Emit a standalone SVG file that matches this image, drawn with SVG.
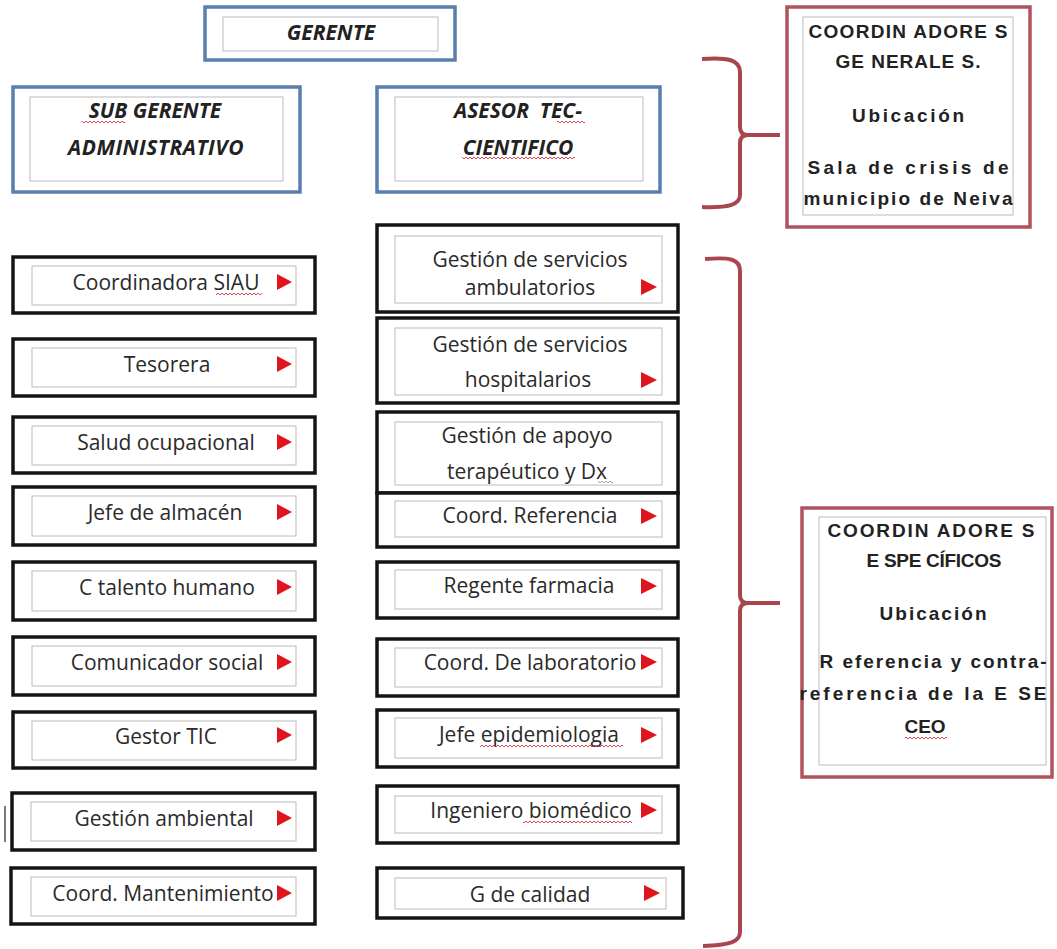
<svg xmlns="http://www.w3.org/2000/svg" width="1057" height="949" viewBox="0 0 1057 949">
<defs>
<style>
.ob{fill:#fff;stroke:#141414;stroke-width:3.5}
.ib{fill:none;stroke:#c6c6c6;stroke-width:1.2}
.bb{fill:#fff;stroke:#5a7eae;stroke-width:3.5}
.rb{fill:#fff;stroke:#b1535c;stroke-width:3.5}
.t{font-family:"Open Sans","Liberation Sans",sans-serif;font-size:21px;fill:#2a2a2a;text-anchor:middle}
.h{font-family:"Open Sans","Liberation Sans",sans-serif;font-weight:bold;font-style:italic;font-size:21px;fill:#222;text-anchor:middle}
.r{font-family:"Liberation Sans",Arial,sans-serif;font-weight:bold;font-size:19px;fill:#222;text-anchor:middle}
.ar{fill:#e0141c}
.br{fill:none;stroke:#a8454f;stroke-width:4;stroke-linejoin:round}
.wv{fill:url(#wv)}
.wg{fill:url(#wg)}
</style>
<pattern id="wv" width="4" height="4" patternUnits="userSpaceOnUse"><path d="M0,3 L2,1 L4,3" fill="none" stroke="#d2333c" stroke-width="0.9"/></pattern>
<pattern id="wg" width="4" height="4" patternUnits="userSpaceOnUse"><path d="M0,3 L2,1 L4,3" fill="none" stroke="#9a9a9a" stroke-width="0.9"/></pattern>
</defs>
<rect width="1057" height="949" fill="#fff"/>

<g id="connectors">
<path class="br" d="M702,59 C728,57 740,60 740,72 L740,127 C740,132 742,135 748,135 L780,135 M748,135 C742,135 740,138 740,143 L740,195 C740,205 728,208 702,207"/>
<path class="br" d="M705,259 C730,257 740,259 740,271 L740,595 C740,600 742,603 748,603 L780,603 M748,603 C742,603 740,606 740,611 L740,932 C740,942 730,945 703,946"/>
</g>

<g id="gerente">
<rect class="bb" x="205" y="7" width="250" height="53"/>
<rect class="ib" x="223" y="17" width="215" height="34"/>
<text class="h" x="331" y="40">GERENTE</text>
</g>

<g id="sub-gerente">
<rect class="bb" x="13" y="87" width="287" height="105"/>
<rect class="ib" x="30" y="97" width="253" height="84"/>
<text class="h" x="155" y="118">SUB GERENTE</text>
<text class="h" x="156" y="155" letter-spacing="0.5">ADMINISTRATIVO</text>
<rect class="wv" x="82" y="120" width="43" height="4"/>
</g>

<g id="asesor">
<rect class="bb" x="377" y="87" width="283" height="105"/>
<rect class="ib" x="395" y="97" width="248" height="84"/>
<text class="h" x="518" y="118" xml:space="preserve">ASESOR  TEC-</text>
<text class="h" x="518" y="155">CIENTIFICO</text>
<rect class="wv" x="557" y="120" width="28" height="4"/>
<rect class="wv" x="462" y="156" width="113" height="4"/>
</g>

<g id="coord-generales">
<rect class="rb" x="787" y="7" width="243" height="220"/>
<rect class="ib" x="803" y="17" width="210" height="198"/>
<text class="r" x="908" y="38" textLength="199" lengthAdjust="spacing">COORDIN ADORE S</text>
<text class="r" x="908" y="68" textLength="145" lengthAdjust="spacing">GE NERALE S.</text>
<text class="r" x="908" y="122" textLength="112" lengthAdjust="spacing">Ubicación</text>
<text class="r" x="908" y="174" textLength="201" lengthAdjust="spacing">Sala de crisis de</text>
<text class="r" x="908" y="205" textLength="209" lengthAdjust="spacing">municipio de Neiva</text>
</g>

<g id="coord-especificos">
<rect class="rb" x="802" y="508" width="250" height="269"/>
<rect class="ib" x="819" y="517" width="227" height="248"/>
<text class="r" x="931" y="537" textLength="207" lengthAdjust="spacing">COORDIN ADORE S</text>
<text class="r" x="934" y="567" textLength="135" lengthAdjust="spacing">E SPE CÍFICOS</text>
<text class="r" x="933" y="620" textLength="107" lengthAdjust="spacing">Ubicación</text>
<text class="r" x="933" y="668" textLength="227" lengthAdjust="spacing">R eferencia y contra-</text>
<text class="r" x="923" y="700" textLength="247" lengthAdjust="spacing">referencia de la E SE</text>
<text class="r" x="925" y="733">CEO</text>
<rect class="wv" x="905" y="736" width="42" height="4"/>
</g>

<!-- left column -->
<g id="siau">
<rect class="ob" x="13" y="257" width="302" height="56"/>
<rect class="ib" x="32" y="266" width="264" height="39"/>
<text class="t" x="166" y="290">Coordinadora SIAU</text>
<rect class="wv" x="216" y="292" width="46" height="4"/>
<polygon class="ar" points="277,274 292,282 277,290"/>
</g>
<g id="tesorera">
<rect class="ob" x="13" y="339" width="302" height="57"/>
<rect class="ib" x="32" y="348" width="264" height="39"/>
<text class="t" x="167" y="372">Tesorera</text>
<polygon class="ar" points="277,356 292,364 277,372"/>
</g>
<g id="salud">
<rect class="ob" x="13" y="417" width="302" height="56"/>
<rect class="ib" x="32" y="426" width="264" height="39"/>
<text class="t" x="166" y="450">Salud ocupacional</text>
<polygon class="ar" points="277,434 292,442 277,450"/>
</g>
<g id="almacen">
<rect class="ob" x="13" y="487" width="302" height="58"/>
<rect class="ib" x="32" y="496" width="264" height="40"/>
<text class="t" x="165" y="520">Jefe de almacén</text>
<polygon class="ar" points="277,504 292,512 277,520"/>
</g>
<g id="talento">
<rect class="ob" x="13" y="562" width="302" height="58"/>
<rect class="ib" x="32" y="571" width="264" height="40"/>
<text class="t" x="167" y="595">C talento humano</text>
<polygon class="ar" points="277,579 292,587 277,595"/>
</g>
<g id="comunicador">
<rect class="ob" x="13" y="637" width="302" height="58"/>
<rect class="ib" x="32" y="646" width="264" height="40"/>
<text class="t" x="167" y="670">Comunicador social</text>
<polygon class="ar" points="277,654 292,662 277,670"/>
</g>
<g id="tic">
<rect class="ob" x="13" y="712" width="302" height="56"/>
<rect class="ib" x="32" y="721" width="264" height="39"/>
<text class="t" x="166" y="744">Gestor TIC</text>
<polygon class="ar" points="277,727 292,735 277,743"/>
</g>
<g id="ambiental">
<rect class="ob" x="12" y="793" width="303" height="57"/>
<rect class="ib" x="31" y="802" width="265" height="39"/>
<text class="t" x="164" y="826">Gestión ambiental</text>
<polygon class="ar" points="277,810 292,818 277,826"/>
</g>
<g id="mantenimiento">
<rect class="ob" x="11" y="868" width="304" height="56"/>
<rect class="ib" x="31" y="877" width="265" height="39"/>
<text class="t" x="163" y="901">Coord. Mantenimiento</text>
<polygon class="ar" points="277,885 292,893 277,901"/>
</g>

<!-- middle column -->
<g id="ambulatorios">
<rect class="ob" x="377" y="225" width="301" height="87"/>
<rect class="ib" x="395" y="236" width="267" height="67"/>
<text class="t" x="530" y="267">Gestión de servicios</text>
<text class="t" x="530" y="295">ambulatorios</text>
<polygon class="ar" points="641,279 657,287 641,295"/>
</g>
<g id="hospitalarios">
<rect class="ob" x="377" y="318" width="301" height="85"/>
<rect class="ib" x="395" y="328" width="267" height="67"/>
<text class="t" x="530" y="352">Gestión de servicios</text>
<text class="t" x="528" y="387">hospitalarios</text>
<polygon class="ar" points="641,372 657,380 641,388"/>
</g>
<g id="apoyo">
<rect class="ob" x="377" y="412" width="301" height="81"/>
<rect class="ib" x="395" y="422" width="267" height="63"/>
<text class="t" x="527" y="443">Gestión de apoyo</text>
<text class="t" x="527" y="479">terapéutico y Dx</text>
<rect class="wg" x="598" y="480" width="15" height="4"/>
</g>
<g id="referencia">
<rect class="ob" x="377" y="493" width="301" height="54"/>
<rect class="ib" x="395" y="501" width="267" height="36"/>
<text class="t" x="530" y="523">Coord. Referencia</text>
<polygon class="ar" points="641,508 657,516 641,524"/>
</g>
<g id="farmacia">
<rect class="ob" x="377" y="562" width="301" height="56"/>
<rect class="ib" x="395" y="570" width="267" height="39"/>
<text class="t" x="529" y="593">Regente farmacia</text>
<polygon class="ar" points="641,578 657,586 641,594"/>
</g>
<g id="laboratorio">
<rect class="ob" x="377" y="639" width="301" height="57"/>
<rect class="ib" x="395" y="648" width="267" height="39"/>
<text class="t" x="530" y="670">Coord. De laboratorio</text>
<polygon class="ar" points="641,654 657,662 641,670"/>
</g>
<g id="epidemiologia">
<rect class="ob" x="377" y="710" width="301" height="57"/>
<rect class="ib" x="395" y="718" width="267" height="40"/>
<text class="t" x="529" y="742">Jefe epidemiologia</text>
<rect class="wv" x="480" y="744" width="143" height="4"/>
<polygon class="ar" points="641,727 657,735 641,743"/>
</g>
<g id="biomedico">
<rect class="ob" x="377" y="786" width="301" height="57"/>
<rect class="ib" x="395" y="796" width="267" height="37"/>
<text class="t" x="531" y="818">Ingeniero biomédico</text>
<rect class="wv" x="523" y="820" width="109" height="4"/>
<polygon class="ar" points="641,802 657,810 641,818"/>
</g>
<g id="calidad">
<rect class="ob" x="377" y="868" width="306" height="50"/>
<rect class="ib" x="395" y="878" width="271" height="31"/>
<text class="t" x="530" y="902">G de calidad</text>
<polygon class="ar" points="644,885 660,893 644,901"/>
</g>

<line x1="5" y1="806" x2="5" y2="842" stroke="#333" stroke-width="1.3"/>
</svg>
